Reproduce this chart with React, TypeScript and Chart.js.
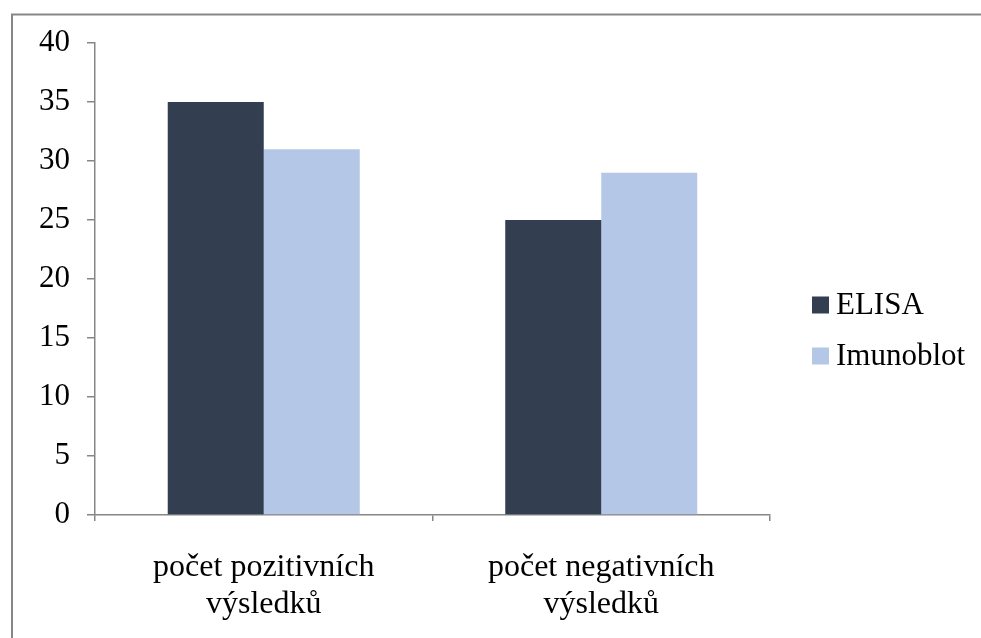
import React, { useEffect, useRef } from "react";
import { Chart, registerables } from "chart.js";

Chart.register(...registerables);

const categories: string[][] = [
  ["počet pozitivních", "výsledků"],
  ["počet negativních", "výsledků"],
];
const seriesNames = ["ELISA", "Imunoblot"];
const elisaValues = [35, 25];
const imunoblotValues = [31, 29];
const seriesColors = ["#333F50", "#B4C7E7"];
const yMin = 0;
const yMax = 40;
const yStep = 5;

const FONT = "'Liberation Serif', 'Times New Roman', serif";

const framePlugin = {
  id: "frame",
  beforeDraw(chart: any) {
    const ctx = chart.ctx;
    ctx.save();
    ctx.fillStyle = "#ffffff";
    ctx.fillRect(0, 0, chart.width, chart.height);
    ctx.strokeStyle = "#878787";
    ctx.lineWidth = 2;
    ctx.strokeRect(12, 14.5, 3000, 3000);
    ctx.restore();
  },
};

const legendPlugin = {
  id: "customLegend",
  afterDraw(chart: any) {
    const ctx = chart.ctx;
    ctx.save();
    ctx.font = `31px ${FONT}`;
    ctx.textBaseline = "middle";
    ctx.textAlign = "left";
    chart.data.datasets.forEach((ds: any, i: number) => {
      const cy = 305 + i * 51;
      ctx.fillStyle = ds.backgroundColor;
      ctx.fillRect(812, cy - 8.5, 17, 17);
      ctx.fillStyle = "#000000";
      ctx.fillText(ds.label, 836, cy + 1);
    });
    ctx.restore();
  },
};

export default function App() {
  const ref = useRef<HTMLCanvasElement | null>(null);

  useEffect(() => {
    if (!ref.current) return;
    const chart = new Chart(ref.current, {
      type: "bar",
      data: {
        labels: categories,
        datasets: [
          {
            label: seriesNames[0],
            data: elisaValues,
            backgroundColor: seriesColors[0],
            categoryPercentage: 0.569,
            barPercentage: 1,
          },
          {
            label: seriesNames[1],
            data: imunoblotValues,
            backgroundColor: seriesColors[1],
            categoryPercentage: 0.569,
            barPercentage: 1,
          },
        ],
      },
      options: {
        responsive: false,
        animation: false,
        layout: { padding: { top: 43, right: 211, left: 0, bottom: 0 } },
        plugins: {
          legend: { display: false },
          tooltip: { enabled: false },
        },
        scales: {
          x: {
            grid: {
              offset: true,
              drawOnChartArea: false,
              drawTicks: true,
              tickLength: 6,
              color: "#868686",
              lineWidth: 1.5,
            },
            border: { color: "#868686", width: 1.5 },
            ticks: {
              color: "#000000",
              font: { family: FONT, size: 32, lineHeight: 1.15 },
              padding: 28,
              maxRotation: 0,
              autoSkip: false,
            },
            afterFit(scale: any) {
              scale.height = 123;
            },
          },
          y: {
            min: yMin,
            max: yMax,
            grid: {
              drawOnChartArea: false,
              drawTicks: true,
              tickLength: 8,
              color: "#868686",
              lineWidth: 1.5,
            },
            border: { color: "#868686", width: 1.5 },
            ticks: {
              stepSize: yStep,
              color: "#000000",
              font: { family: FONT, size: 31 },
              padding: 17,
            },
            afterFit(scale: any) {
              scale.width = 95;
            },
          },
        },
      },
      plugins: [framePlugin, legendPlugin],
    });
    return () => chart.destroy();
  }, []);

  return (
    <div style={{ position: "absolute", left: 0, top: 0, width: 981, height: 638, background: "#fff" }}>
      <canvas ref={ref} width={981} height={638} />
    </div>
  );
}
